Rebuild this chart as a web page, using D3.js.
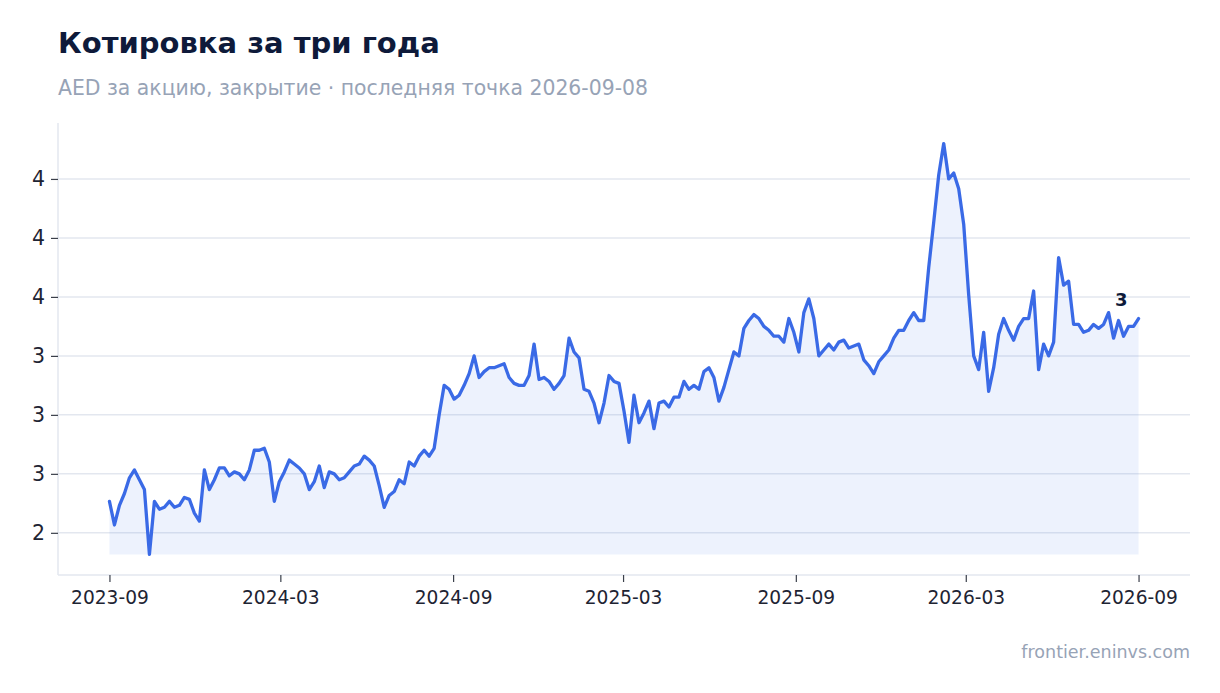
<!DOCTYPE html>
<html>
<head>
<meta charset="utf-8">
<script src="https://cdn.jsdelivr.net/npm/d3@7"></script>
<style>
  html, body { margin: 0; padding: 0; background: #ffffff; }
  svg { display: block; font-family: "DejaVu Sans", sans-serif; }
</style>
</head>
<body>
<svg id="chart" width="1220" height="693"></svg>
<script>
// период котировок: первая и последняя точка
var startDate = "2023-09-08";
var endDate = "2026-09-08";

// цена закрытия, AED (равные интервалы между датами)
var closeValues = [
  2.56, 2.44, 2.54, 2.60, 2.68, 2.72, 2.67, 2.62, 2.29, 2.56,
  2.52, 2.53, 2.56, 2.53, 2.54, 2.58, 2.57, 2.50, 2.46, 2.72,
  2.62, 2.67, 2.73, 2.73, 2.69, 2.71, 2.70, 2.67, 2.72, 2.82,
  2.82, 2.83, 2.76, 2.56, 2.66, 2.71, 2.77, 2.75, 2.73, 2.70,
  2.62, 2.66, 2.74, 2.63, 2.71, 2.70, 2.67, 2.68, 2.71, 2.74,
  2.75, 2.79, 2.77, 2.74, 2.64, 2.53, 2.59, 2.61, 2.67, 2.65,
  2.76, 2.74, 2.79, 2.82, 2.79, 2.83, 3.00, 3.15, 3.13, 3.08,
  3.10, 3.15, 3.21, 3.30, 3.19, 3.22, 3.24, 3.24, 3.25, 3.26,
  3.19, 3.16, 3.15, 3.15, 3.20, 3.36, 3.18, 3.19, 3.17, 3.13,
  3.16, 3.20, 3.39, 3.32, 3.29, 3.13, 3.12, 3.06, 2.96, 3.06,
  3.20, 3.17, 3.16, 3.02, 2.86, 3.10, 2.96, 3.01, 3.07, 2.93,
  3.06, 3.07, 3.04, 3.09, 3.09, 3.17, 3.13, 3.15, 3.13, 3.22,
  3.24, 3.19, 3.07, 3.14, 3.23, 3.32, 3.30, 3.44, 3.48, 3.51,
  3.49, 3.45, 3.43, 3.40, 3.40, 3.37, 3.49, 3.42, 3.32, 3.52,
  3.59, 3.49, 3.30, 3.33, 3.36, 3.33, 3.37, 3.38, 3.34, 3.35,
  3.36, 3.28, 3.25, 3.21, 3.27, 3.30, 3.33, 3.39, 3.43, 3.43,
  3.48, 3.52, 3.48, 3.48, 3.75, 3.98, 4.22, 4.38, 4.20, 4.23,
  4.15, 3.97, 3.61, 3.30, 3.23, 3.42, 3.12, 3.24, 3.41, 3.49,
  3.43, 3.38, 3.45, 3.49, 3.49, 3.63, 3.23, 3.36, 3.30, 3.37,
  3.80, 3.66, 3.68, 3.46, 3.46, 3.42, 3.43, 3.46, 3.44, 3.46,
  3.52, 3.39, 3.48, 3.40, 3.45, 3.45, 3.49
];

// деления осей
var xTickDates = ["2023-09-08", "2024-03-08", "2024-09-08", "2025-03-08",
                  "2025-09-08", "2026-03-08", "2026-09-08"];
var yTickValues = [2.4, 2.7, 3.0, 3.3, 3.6, 3.9, 4.2];

var titleText = "Котировка за три года";
var subtitleText = "AED за акцию, закрытие · последняя точка 2026-09-08";
var sourceText = "frontier.eninvs.com";

var svg = d3.select("#chart");
var plotLeft = 58, plotRight = 1190, plotTop = 123, plotBottom = 575;

var parseDay = d3.utcParse("%Y-%m-%d");
var t0 = parseDay(startDate).getTime();
var t1 = parseDay(endDate).getTime();
var n = closeValues.length;

var series = closeValues.map(function (v, i) {
  return { date: new Date(t0 + i * (t1 - t0) / (n - 1)), value: v };
});

// шкала X с отступом 5% от диапазона дат
var span = t1 - t0;
var x = d3.scaleUtc()
  .domain([new Date(t0 - span * 0.05), new Date(t1 + span * 0.05)])
  .range([plotLeft, plotRight]);

var minV = d3.min(closeValues), maxV = d3.max(closeValues);
var pad = (maxV - minV) * 0.05;
var y = d3.scaleLinear()
  .domain([minV - pad, maxV + pad])
  .range([plotBottom, plotTop]);

var fmtY = d3.format(".0f");
var fmtX = d3.utcFormat("%Y-%m");

// сетка
svg.append("g")
  .selectAll("line")
  .data(yTickValues)
  .enter()
  .append("line")
  .attr("x1", plotLeft).attr("x2", plotRight)
  .attr("y1", function (d) { return y(d); })
  .attr("y2", function (d) { return y(d); })
  .attr("stroke", "#e3e7ef")
  .attr("stroke-width", 1.5);

// заливка под линией до минимума
var area = d3.area()
  .x(function (d) { return x(d.date); })
  .y0(y(minV))
  .y1(function (d) { return y(d.value); });

svg.append("path")
  .datum(series)
  .attr("d", area)
  .attr("fill", "#3b6ee8")
  .attr("fill-opacity", 0.09);

var line = d3.line()
  .x(function (d) { return x(d.date); })
  .y(function (d) { return y(d.value); });

svg.append("path")
  .datum(series)
  .attr("d", line)
  .attr("fill", "none")
  .attr("stroke", "#3a6ae6")
  .attr("stroke-width", 3.3)
  .attr("stroke-linejoin", "round")
  .attr("stroke-linecap", "round");

// оси
var yAxis = svg.append("g")
  .attr("transform", "translate(" + plotLeft + ",0)")
  .call(d3.axisLeft(y).tickValues(yTickValues).tickFormat(fmtY).tickSize(7).tickPadding(6));

var xAxis = svg.append("g")
  .attr("transform", "translate(0," + plotBottom + ")")
  .call(d3.axisBottom(x).tickValues(xTickDates.map(parseDay)).tickFormat(fmtX).tickSize(7).tickPadding(9));

[yAxis, xAxis].forEach(function (g) {
  g.select(".domain").attr("stroke", "#e3e7ef").attr("stroke-width", 1.5);
  g.selectAll(".tick line").attr("stroke", "#3a3f4a").attr("stroke-width", 1.2);
  g.selectAll(".tick text").attr("fill", "#1e2433").attr("font-family", "DejaVu Sans");
});
yAxis.select(".domain").attr("d", "M0," + plotTop + "V" + plotBottom);
xAxis.select(".domain").attr("d", "M" + plotLeft + ",0H" + plotRight);
yAxis.selectAll(".tick text").attr("font-size", 20.5);
xAxis.selectAll(".tick text").attr("font-size", 18.6);

// подпись последней точки
var last = series[n - 1];
svg.append("text")
  .attr("x", x(last.date) - 11)
  .attr("y", y(last.value) - 13)
  .attr("text-anchor", "end")
  .attr("font-size", 18)
  .attr("font-weight", "bold")
  .attr("fill", "#0e1a3a")
  .text(fmtY(last.value));

// заголовки
svg.append("text")
  .attr("x", 58).attr("y", 53)
  .attr("font-size", 29)
  .attr("font-weight", "bold")
  .attr("fill", "#0e1a3a")
  .text(titleText);

svg.append("text")
  .attr("x", 58).attr("y", 95)
  .attr("font-size", 20.4)
  .attr("fill", "#97a3b6")
  .text(subtitleText);

svg.append("text")
  .attr("x", 1190).attr("y", 658)
  .attr("text-anchor", "end")
  .attr("font-size", 17.5)
  .attr("fill", "#97a3b6")
  .text(sourceText);
</script>
</body>
</html>
